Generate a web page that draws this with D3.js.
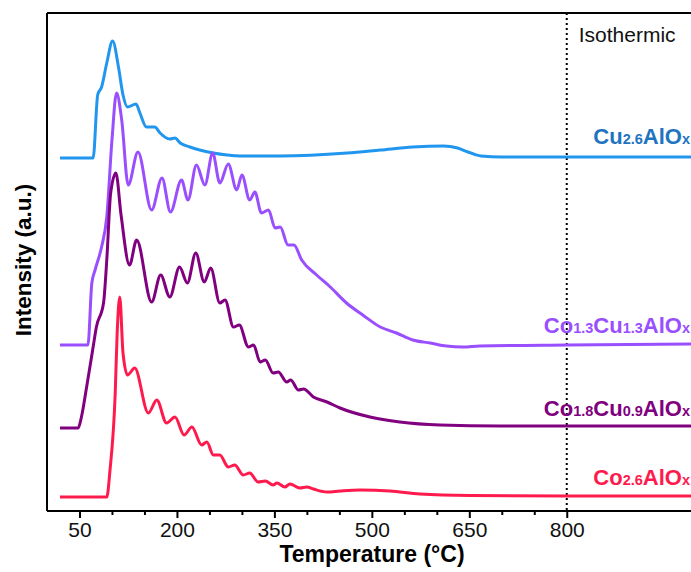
<!DOCTYPE html>
<html>
<head>
<meta charset="utf-8">
<script src="https://cdn.jsdelivr.net/npm/d3@7"></script>
<style>
  body { margin: 0; background: #fff; }
  svg { display: block; font-family: Arial, "Liberation Sans", sans-serif; }
</style>
</head>
<body>
<script>
// temperature (°C) and stacked intensity (a.u.)
const cuAl = [[20,353],[71,353],[78,416],[84,424],[92,448],[101,470],[110,444],[117,416],[124,404],[137,407],[143,398],[153,384],[166,384],[174,378],[189,372],[197,373],[205,368],[220,364],[235,361],[256,358],[277,356],[297,355],[359,355],[462,358],[513,361],[563,364],[610,365],[632,363],[648,359],[668,355],[700,354],[800,354],[1000,354]];
const co13cu13 = [[20,166],[63,166],[69,228],[74,241],[84,264],[92,294],[100,371],[107,418],[115,391],[125,326],[140,359],[161,301],[177,333],[190,299],[207,331],[217,311],[230,346],[243,326],[255,358],[266,328],[279,347],[292,321],[300,336],[312,311],[320,319],[330,298],[341,301],[351,283],[359,284],[371,266],[380,266],[392,251],[415,236],[436,224],[461,208],[486,196],[513,184],[538,178],[563,171],[590,168],[615,165],[640,164],[666,165],[800,166],[1000,167]];
const co18cu09 = [[20,83],[48,83],[53,94],[61,124],[71,164],[76,184],[87,208],[92,251],[98,318],[106,338],[114,296],[127,246],[138,271],[161,209],[175,236],[189,214],[204,244],[216,228],[229,258],[242,229],[252,243],[266,208],[274,211],[287,184],[296,186],[310,164],[318,166],[328,149],[336,151],[348,138],[356,139],[369,129],[375,131],[387,121],[395,122],[410,114],[431,109],[451,103],[497,94],[543,89],[605,86],[697,85],[800,85],[1000,85]];
const co26 = [[20,14],[92,14],[97,41],[105,118],[108,178],[112,214],[117,158],[124,136],[135,143],[156,98],[169,111],[184,88],[197,94],[211,76],[223,84],[238,66],[246,69],[256,56],[266,56],[279,44],[289,46],[302,36],[312,38],[325,29],[336,30],[348,26],[354,28],[366,24],[374,27],[389,23],[400,24],[410,22],[431,19],[451,20],[482,21],[528,20],[574,17],[651,15.5],[800,15],[1000,15]];

const seriesNames = ["Cu2.6AlOx", "Co1.3Cu1.3AlOx", "Co1.8Cu0.9AlOx", "Co2.6AlOx"];
const seriesData = [cuAl, co13cu13, co18cu09, co26];
const lineColors = ["#2196ee", "#9a4fff", "#800080", "#ff1a4d"];
const labelColors = ["#1f74c0", "#9a4fff", "#800080", "#ff1a4d"];
// label parts: [text, isSubscript]
const labelParts = [
  [["Cu",0],["2.6",1],["AlO",0],["x",1]],
  [["Co",0],["1.3",1],["Cu",0],["1.3",1],["AlO",0],["x",1]],
  [["Co",0],["1.8",1],["Cu",0],["0.9",1],["AlO",0],["x",1]],
  [["Co",0],["2.6",1],["AlO",0],["x",1]]
];
const labelBaseline = [367, 178, 95, 26];

const majorTicks = [50, 200, 350, 500, 650, 800];
const minorTicks = [100, 150, 250, 300, 400, 450, 550, 600, 700, 750];
const isoTemp = 800;

const width = 691, height = 572;
const marginLeft = 47, plotTop = 13, plotBottom = 511;

const x = d3.scaleLinear().domain([0, 1000]).range([marginLeft, marginLeft + 1000 * 0.6497]);
const y = d3.scaleLinear().domain([0, 498]).range([plotBottom, plotTop]);

const svg = d3.select("body").append("svg")
    .attr("width", width)
    .attr("height", height)
    .attr("viewBox", [0, 0, width, height]);

svg.append("defs").append("clipPath").attr("id", "clip")
  .append("rect").attr("x", marginLeft).attr("y", plotTop)
    .attr("width", width - marginLeft).attr("height", plotBottom - plotTop);

// isothermic marker
svg.append("line")
    .attr("x1", x(isoTemp)).attr("x2", x(isoTemp))
    .attr("y1", plotTop).attr("y2", plotBottom)
    .attr("stroke", "#000")
    .attr("stroke-width", 2)
    .attr("stroke-dasharray", "2,3");

svg.append("text")
    .attr("x", x(isoTemp) + 12)
    .attr("y", 42)
    .attr("font-size", 21)
    .attr("fill", "#111")
    .text("Isothermic");

const line = d3.line()
    .x(d => x(d[0]))
    .y(d => y(d[1]))
    .curve(d3.curveMonotoneX);

svg.append("g")
    .attr("clip-path", "url(#clip)")
  .selectAll("path")
  .data(seriesData)
  .join("path")
    .attr("d", line)
    .attr("fill", "none")
    .attr("stroke", (d, i) => lineColors[i])
    .attr("stroke-width", 3)
    .attr("stroke-linejoin", "round");

// series labels
labelParts.forEach((parts, i) => {
  const t = svg.append("text")
      .attr("x", 690)
      .attr("y", y(labelBaseline[i]))
      .attr("text-anchor", "end")
      .attr("font-weight", "bold")
      .attr("fill", labelColors[i]);
  parts.forEach(([s, sub]) => {
    t.append("tspan").attr("font-size", sub ? 14.5 : 22).text(s);
  });
});

// frame
svg.append("line")
    .attr("x1", marginLeft).attr("x2", width).attr("y1", plotTop).attr("y2", plotTop)
    .attr("stroke", "#000").attr("stroke-width", 2);
svg.append("line")
    .attr("x1", marginLeft).attr("x2", marginLeft).attr("y1", plotTop).attr("y2", plotBottom)
    .attr("stroke", "#000").attr("stroke-width", 2);

// x axis
svg.append("g")
    .attr("transform", `translate(0,${plotBottom})`)
    .call(d3.axisBottom(x).tickValues(minorTicks).tickSize(4).tickFormat(""))
    .call(g => g.select(".domain").remove())
    .call(g => g.selectAll("line").attr("stroke-width", 2));

svg.append("g")
    .attr("transform", `translate(0,${plotBottom})`)
    .call(d3.axisBottom(x).tickValues(majorTicks).tickSize(7).tickSizeOuter(0).tickPadding(4))
    .call(g => g.select(".domain").attr("stroke-width", 2).attr("d", `M${marginLeft},0H${width}`))
    .call(g => g.selectAll("line").attr("stroke-width", 2))
    .call(g => g.selectAll("text").attr("font-size", 21).attr("fill", "#111")
        .attr("font-family", "Arial, 'Liberation Sans', sans-serif"));

svg.append("text")
    .attr("x", 372)
    .attr("y", 562)
    .attr("text-anchor", "middle")
    .attr("font-size", 23)
    .attr("font-weight", "bold")
    .text("Temperature (°C)");

svg.append("text")
    .attr("transform", "translate(31,260) rotate(-90)")
    .attr("text-anchor", "middle")
    .attr("font-size", 22.5)
    .attr("font-weight", "bold")
    .text("Intensity (a.u.)");
</script>
</body>
</html>
